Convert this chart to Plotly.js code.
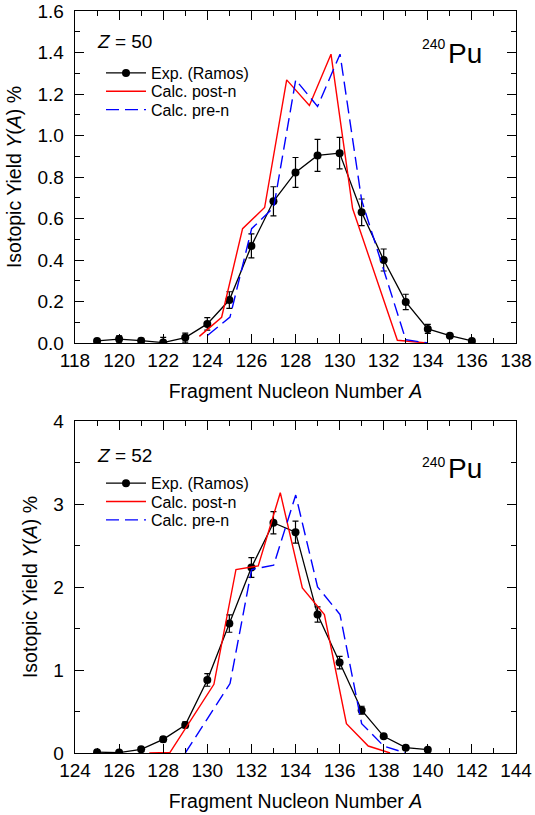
<!DOCTYPE html>
<html><head><meta charset="utf-8">
<script src="https://cdn.plot.ly/plotly-3.0.1.min.js"></script>
<style>html,body{margin:0;padding:0;background:#fff}</style>
</head><body><div id="chart" style="width:535px;height:815px"></div>
<script>
// ---- Z = 50 panel data ----
const expA_Z50   = [119,120,121,122,123,124,125,126,127,128,129,130,131,132,133,134,135,136];
const expY_Z50   = [0.010,0.019,0.011,0.002,0.026,0.092,0.207,0.468,0.683,0.822,0.904,0.915,0.630,0.400,0.198,0.068,0.035,0.010];
const expErr_Z50 = [0.010,0.015,0.012,0.025,0.022,0.030,0.040,0.058,0.070,0.072,0.077,0.076,0.064,0.053,0.037,0.022,0.008,0.005];
const postA_Z50  = [123.64,124.65,125.60,126.60,127.60,128.63,129.61,130.59,132.62,133.95];
const postY_Z50  = [0.032,0.124,0.551,0.653,1.268,1.145,1.392,0.648,0.013,0.0];
const preA_Z50   = [124.02,125.03,126.01,127.01,128.01,129.00,130.02,131.00,133.00,134.00];
const preY_Z50   = [0.037,0.125,0.551,0.653,1.268,1.140,1.392,0.688,0.016,0.0];

// ---- Z = 52 panel data ----
const expA_Z52   = [125,126,127,128,129,130,131,132,133,134,135,136,137,138,139,140];
const expY_Z52   = [0.010,0.005,0.044,0.165,0.338,0.880,1.560,2.235,2.774,2.661,1.668,1.089,0.515,0.201,0.064,0.040];
const expErr_Z52 = [0.010,0.010,0.020,0.030,0.036,0.076,0.105,0.120,0.133,0.133,0.092,0.076,0.048,0.020,0.020,0.020];
const postA_Z52  = [127.37,128.31,130.30,131.30,132.31,133.31,134.31,135.31,136.31,137.30,138.29];
const postY_Z52  = [0.0,0.008,0.828,2.211,2.255,3.136,1.990,1.668,0.354,0.084,0.0];
const preA_Z52   = [129.00,131.03,132.01,133.01,134.01,135.00,136.02,137.00,138.00,139.00];
const preY_Z52   = [0.0,0.836,2.211,2.263,3.108,2.002,1.668,0.354,0.084,0.0];

const legendNames = ['Exp. (Ramos)','Calc. post-n','Calc. pre-n'];

const W=535, H=815, ML=75, MR=19, MT=11, MB=62;
const pw = W-ML-MR, ph = H-MT-MB;
const px = x => (x-ML)/pw;
const py = y => (H-MB-y)/ph;
const FONT = 'Liberation Sans, Arial, Helvetica, sans-serif';

function expTrace(x,y,e,xa,ya,lg){
  return {x:x,y:y,xaxis:xa,yaxis:ya,type:'scatter',mode:'lines+markers',name:legendNames[0],legend:lg,
    line:{color:'#000',width:1.3},marker:{color:'#000',size:8,symbol:'circle'},
    error_y:{type:'data',array:e,visible:true,color:'#000',thickness:1.2,width:3}};
}
function postTrace(x,y,xa,ya,lg){
  return {x:x,y:y,xaxis:xa,yaxis:ya,type:'scatter',mode:'lines',name:legendNames[1],legend:lg,
    line:{color:'#ff0000',width:1.4}};
}
function preTrace(x,y,xa,ya,lg){
  return {x:x,y:y,xaxis:xa,yaxis:ya,type:'scatter',mode:'lines',name:legendNames[2],legend:lg,
    line:{color:'#0000ff',width:1.4,dash:'13px,6px'}};
}

const data = [
  expTrace(expA_Z50,expY_Z50,expErr_Z50,'x','y','legend'),
  postTrace(postA_Z50,postY_Z50,'x','y','legend2'),
  preTrace(preA_Z50,preY_Z50,'x','y','legend3'),
  expTrace(expA_Z52,expY_Z52,expErr_Z52,'x2','y2','legend4'),
  postTrace(postA_Z52,postY_Z52,'x2','y2','legend5'),
  preTrace(preA_Z52,preY_Z52,'x2','y2','legend6')
];

const axBase = {showline:true,linecolor:'#000',linewidth:1.3,mirror:'ticks',ticks:'inside',ticklen:9,tickwidth:1,
  tickcolor:'#000',showgrid:false,zeroline:false,automargin:false,tickfont:{family:FONT,size:19,color:'#000'}};
const xTitle = {text:'Fragment Nucleon Number <i>A</i>',font:{family:FONT,size:19.5,color:'#000'},standoff:14};
const yTitle = {text:'Isotopic Yield <i>Y</i>(<i>A</i>) %',font:{family:FONT,size:19.5,color:'#000'},standoff:10};

function leg(xp,yp){
  return {x:px(xp),y:py(yp),xanchor:'left',yanchor:'middle',bgcolor:'rgba(0,0,0,0)',borderwidth:0,
    font:{family:FONT,size:16,color:'#000'},itemwidth:40};
}

const LX = 101;
const layout = {
  width:W,height:H,margin:{l:ML,r:MR,t:MT,b:MB},paper_bgcolor:'#fff',plot_bgcolor:'#fff',
  font:{family:FONT,color:'#000'},showlegend:true,
  xaxis:Object.assign({},axBase,{domain:[0,1],anchor:'y',range:[118,138],tick0:118,dtick:2,
    minor:{dtick:1,ticks:'inside',ticklen:5,tickwidth:1,tickcolor:'#000',showgrid:false},title:xTitle}),
  yaxis:Object.assign({},axBase,{domain:[py(343),1],anchor:'x',range:[0,1.6],tick0:0,dtick:0.2,tickformat:'.1f',
    ticklabelstandoff:6,minor:{dtick:0.1,ticks:'inside',ticklen:5,tickwidth:1,tickcolor:'#000',showgrid:false},title:yTitle}),
  xaxis2:Object.assign({},axBase,{domain:[0,1],anchor:'y2',range:[124,144],tick0:124,dtick:2,
    minor:{dtick:1,ticks:'inside',ticklen:5,tickwidth:1,tickcolor:'#000',showgrid:false},title:xTitle}),
  yaxis2:Object.assign({},axBase,{domain:[0,py(421)],anchor:'x2',range:[0,4],tick0:0,dtick:1,
    ticklabelstandoff:6,minor:{dtick:0.5,ticks:'inside',ticklen:5,tickwidth:1,tickcolor:'#000',showgrid:false},title:yTitle}),
  legend:leg(LX,73), legend2:leg(LX,91.3), legend3:leg(LX,109.7),
  legend4:leg(LX,483.3), legend5:leg(LX,501.6), legend6:leg(LX,520),
  annotations:[
    {xref:'paper',yref:'paper',x:px(95),y:py(41.7),xanchor:'left',yanchor:'middle',showarrow:false,
      text:'<i>Z</i> = 50',font:{family:FONT,size:19,color:'#000'}},
    {xref:'paper',yref:'paper',x:px(95),y:py(455.8),xanchor:'left',yanchor:'middle',showarrow:false,
      text:'<i>Z</i> = 52',font:{family:FONT,size:19,color:'#000'}},
    {xref:'paper',yref:'paper',x:px(420),y:py(44.3),xanchor:'left',yanchor:'middle',showarrow:false,
      text:'240',font:{family:FONT,size:14,color:'#000'}},
    {xref:'paper',yref:'paper',x:px(446),y:py(53.5),xanchor:'left',yanchor:'middle',showarrow:false,
      text:'Pu',font:{family:FONT,size:28,color:'#000'}},
    {xref:'paper',yref:'paper',x:px(420),y:py(461.7),xanchor:'left',yanchor:'middle',showarrow:false,
      text:'240',font:{family:FONT,size:14,color:'#000'}},
    {xref:'paper',yref:'paper',x:px(446),y:py(468),xanchor:'left',yanchor:'middle',showarrow:false,
      text:'Pu',font:{family:FONT,size:28,color:'#000'}}
  ]
};

Plotly.newPlot('chart',data,layout,{displayModeBar:false,staticPlot:true});
</script></body></html>
